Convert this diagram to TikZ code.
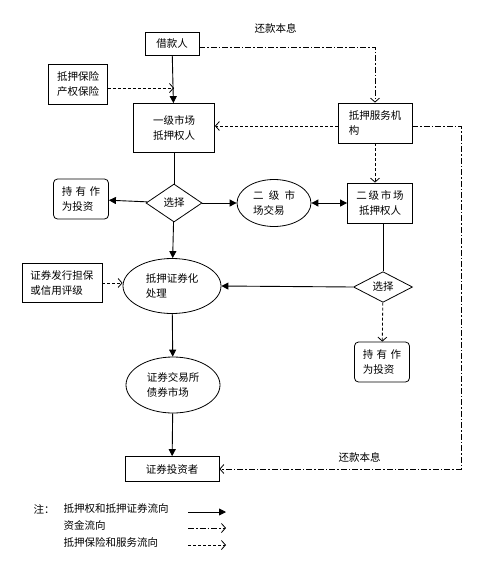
\documentclass[tikz,border=0pt]{standalone}
\usepackage{fontspec}
\setmainfont{Noto Sans CJK SC}
\usetikzlibrary{arrows.meta,shapes.geometric}
\begin{document}
\begin{tikzpicture}[x=1pt, y=-1pt,
  every node/.style={font=\fontsize{10.5}{15}\selectfont},
  box/.style={draw, line width=0.8pt, align=center, inner sep=1pt},
  rbox/.style={box, rounded corners=4pt},
  oval/.style={draw, ellipse, line width=0.8pt, align=left, inner sep=0pt},
  choice/.style={draw, diamond, line width=0.8pt, inner sep=0pt},
  flow/.style={-{Triangle[length=7pt,width=7pt]}, line width=0.9pt},
  money/.style={-{Straight Barb[length=4pt,width=9pt]}, line width=0.8pt, dash pattern=on 6pt off 2pt on 1.5pt off 2pt},
  serve/.style={-{Straight Barb[length=4pt,width=9pt]}, line width=0.8pt, dash pattern=on 3pt off 2pt}]
\useasboundingbox (0,0) rectangle (493,566);
% top row
\node[box, minimum width=54, minimum height=23] (borrower) at (172,44) {借款人};
\node[box, minimum width=59, minimum height=40] (insure) at (78,84) {抵押保险\\产权保险};
\node[box, minimum width=81, minimum height=49] (primary) at (174,128) {一级市场\\抵押权人};
\node[box, minimum width=74, minimum height=40, align=left] (service) at (375,123) {抵押服务机\\构};
% choice row
\node[choice, minimum width=56, minimum height=38] (choose1) at (174,203) {选择};
\node[rbox, minimum width=55, minimum height=40, align=left] (hold1) at (81,199) {持\,\,有\,\,作\\为投资};
\node[oval, minimum width=74, minimum height=47] (secmkt) at (274,203) {二\,\,\,级\,\,\,市\\场交易};
\node[box, minimum width=65, minimum height=40] (secholder) at (380,203) {二\,级\,市\,场\\抵押权人};
\node[choice, minimum width=59, minimum height=30] (choose2) at (383,287) {选择};
\node[rbox, minimum width=55, minimum height=40, align=left] (hold2) at (382,362) {持\,\,有\,\,作\\为投资};
% securities
\node[oval, minimum width=98, minimum height=55] (securitize) at (172,286) {抵押证券化\\处理};
\node[box, minimum width=80, minimum height=39, align=left] (rating) at (62,283) {证券发行担保\\或信用评级};
\node[oval, minimum width=94, minimum height=56] (exchange) at (173,385) {证券交易所\\债券市场};
\node[box, minimum width=94, minimum height=25] (investor) at (172,469) {证券投资者};
% labels
\node[anchor=west] (repayA) at (251,28) {还款本息};
\node[anchor=west] (repayB) at (335,457) {还款本息};
\coordinate (RT) at (461,469); % right turn
% solid flows
\draw[flow] (borrower) -- (primary);
\draw[line width=0.9pt] (primary) -- (choose1);
\draw[flow] (choose1) -- (hold1);
\draw[flow] (choose1) -- (secmkt);
\draw[flow, {Triangle[length=7pt,width=7pt]}-{Triangle[length=7pt,width=7pt]}] (secmkt) -- (secholder);
\draw[flow] (choose1) -- (securitize);
\draw[line width=0.9pt] (secholder.south -| choose2.north) -- (choose2.north);
\draw[flow] (choose2.west) -- (securitize.east);
\draw[flow] (securitize) -- (exchange);
\draw[flow] (exchange) -- (investor);
% money flows
\draw[money] ([yshift=-3pt]borrower.east) -| (service.north);
\draw[money] ([yshift=-3pt]service.east) -| (RT) -- (investor.east);
% service flows
\draw[serve] ([yshift=-4pt]insure.east) -- ([yshift=-4pt]insure.east -| primary.north);
\draw[serve] ([yshift=-3pt]service.west) -- ([yshift=-3pt]service.west -| primary.east);
\draw[serve] (service.south) -- (service.south |- secholder.north);
\draw[serve] (rating.east) -- (rating.east -| securitize.west);
\draw[serve] (choose2) -- (hold2);
% legend
\node[anchor=west] (note) at (30,509) {注：};
\node[anchor=west] (keyA) at (60,509) {抵押权和抵押证券流向};
\node[anchor=west] (keyB) at (60,525) {资金流向};
\node[anchor=west] (keyC) at (60,542) {抵押保险和服务流向};
\coordinate (A1) at (188,512); \coordinate (A2) at (226,512);
\coordinate (B1) at (188,528); \coordinate (B2) at (226,528);
\coordinate (C1) at (188,545); \coordinate (C2) at (226,545);
\draw[flow] (A1) -- (A2);
\draw[money] (B1) -- (B2);
\draw[serve] (C1) -- (C2);
\end{tikzpicture}
\end{document}
